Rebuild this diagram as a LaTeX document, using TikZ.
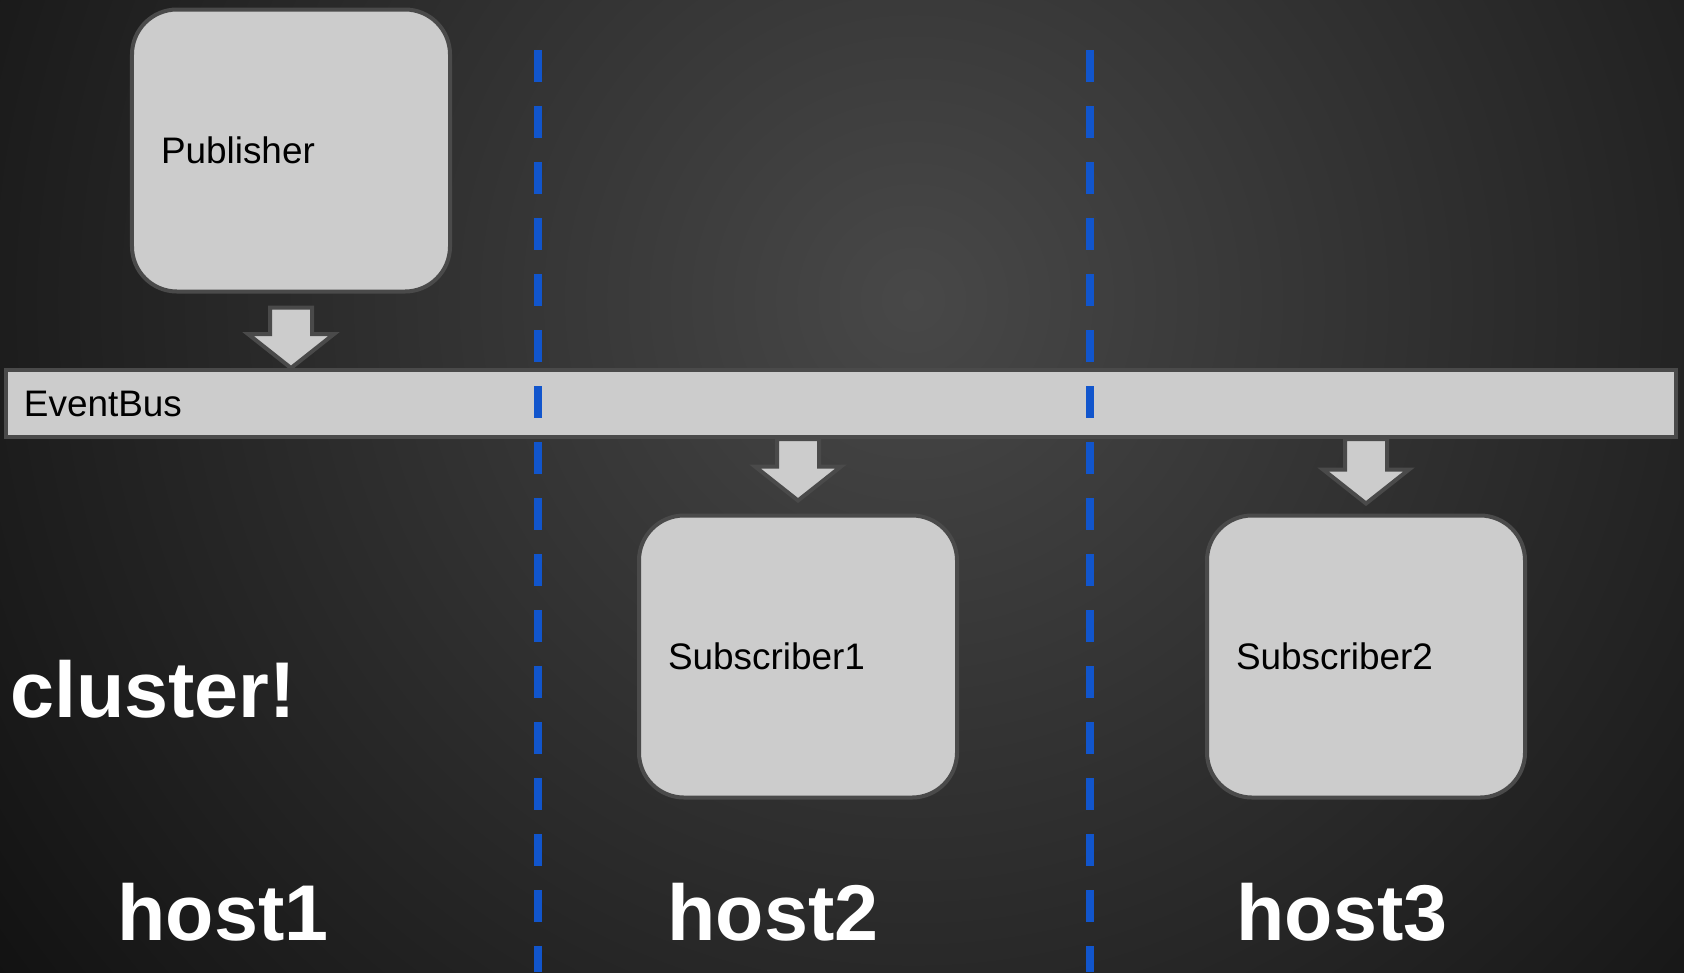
\documentclass[tikz,border=0pt]{standalone}
\usepackage{fontspec}
\setmainfont{Liberation Sans}
\usetikzlibrary{calc,positioning}
\definecolor{bgglow}{HTML}{484848}
\definecolor{bgdark}{HTML}{121212}
\definecolor{boxfill}{HTML}{CCCCCC}
\definecolor{boxline}{HTML}{4A4A4A}
\definecolor{hostblue}{HTML}{1155CC}
\pgfdeclareradialshading{bgspot}{\pgfpoint{0bp}{0bp}}{color(0bp)=(bgglow); color(25bp)=(bgdark); color(50bp)=(bgdark)}

% fat down arrow: #1 top of the shaft, #2 the tip
\newcommand{\blockdown}[2]{%
  \draw[blockarrow] ($(#1)+(-21,0)$) -- ($(#1)+(21,0)$) -- ($(#2)+(21,-34)$)
    -- ($(#2)+(43,-34)$) -- (#2) -- ($(#2)+(-43,-34)$) -- ($(#2)+(-21,-34)$) -- cycle;}

\begin{document}
\begin{tikzpicture}[x=0.2mm,y=-0.2mm,
    box/.style={draw=boxline, fill=boxfill, line width=0.8mm, rounded corners=9mm,
      minimum height=56.4mm, text width=52mm, inner xsep=5.8mm, align=left,
      font=\fontsize{21pt}{25pt}\selectfont},
    bus/.style={draw=boxline, fill=boxfill, line width=0.8mm, minimum height=13.4mm,
      text width=326.8mm, inner xsep=3.6mm, align=left,
      font=\fontsize{21pt}{25pt}\selectfont},
    blockarrow/.style={draw=boxline, fill=boxfill, line width=0.8mm},
    hostsep/.style={hostblue, line width=1.6mm, dash pattern=on 6.4mm off 4.8mm},
    biglabel/.style={text=white, inner sep=0pt,
      font=\fontsize{45pt}{54pt}\selectfont\bfseries}]
  \useasboundingbox (0,0) rectangle (1684,972);
  % background glow
  \begin{scope}
    \clip (0,0) rectangle (1684,972);
    \shade[shading=bgspot] (913,300) circle (228mm);
  \end{scope}

  % bus and the three boxes
  \node[bus] (bus) at (841,403.5) {EventBus};
  \node[box] (pub) at (291,150.5) {Publisher};
  \node[box] (sub1) at (798,656.5) {Subscriber1};
  \node[box] (sub2) at (1366,656.5) {Subscriber2};

  % arrows in and out of the bus
  \coordinate (pubout) at ($(pub.south)+(0,14)$);
  \coordinate (pubtip) at (pubout |- bus.north);
  \blockdown{pubout}{pubtip}
  \coordinate (s1out) at (sub1.north |- bus.south);
  \coordinate (s1tip) at ($(sub1.north)+(0,-13)$);
  \blockdown{s1out}{s1tip}
  \coordinate (s2out) at (sub2.north |- bus.south);
  \coordinate (s2tip) at ($(sub2.north)+(0,-10)$);
  \blockdown{s2out}{s2tip}

  % host borders
  \foreach \hx [count=\i] in {538,1090} {
    \coordinate (sep\i top) at (\hx,50);
    \coordinate (sep\i bot) at (\hx,972);
    \draw[hostsep] (sep\i top) -- (sep\i bot);
  }

  % labels
  \node[biglabel, anchor=base west] (clusterlbl) at (10,717) {cluster!};
  \node[biglabel, anchor=base] (host1) at (223,940) {host1};
  \node[biglabel, anchor=base] (host2) at (773,940) {host2};
  \node[biglabel, anchor=base] (host3) at (1342,940) {host3};
\end{tikzpicture}
\end{document}
